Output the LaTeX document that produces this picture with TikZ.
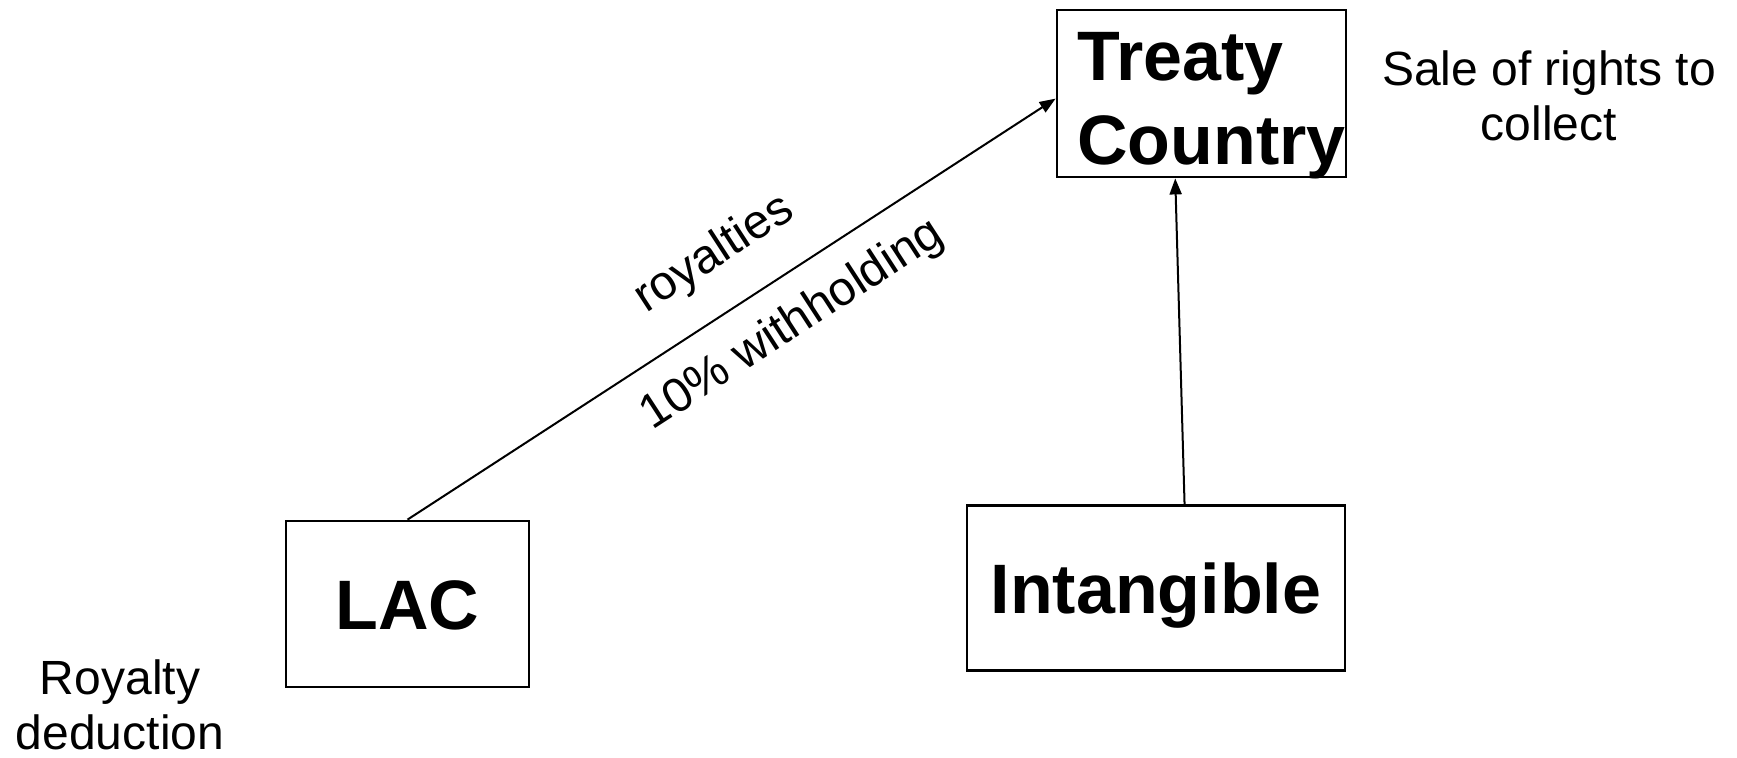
\documentclass[tikz,border=0pt]{standalone}
\usepackage{fontspec}
\setmainfont{Liberation Sans}
\usetikzlibrary{arrows.meta,calc}
\begin{document}
\begin{tikzpicture}[x=0.5pt,y=-0.5pt,
  box/.style={draw, line width=1.4pt, inner sep=0pt, font=\fontsize{35}{42}\selectfont\bfseries},
  caps/.style={text height=25pt, text depth=0pt},
  note/.style={font=\fontsize{24}{27.5}\selectfont, align=center, inner sep=0pt},
  flow/.style={line width=1pt, -{Triangle[length=8pt,width=6pt]}},
  lbl/.style={font=\fontsize{24}{27.5}\selectfont, inner sep=0pt, sloped, anchor=center}]
  \useasboundingbox (0,0) rectangle (1737,757);

  % boxes
  \node[box, minimum width=144.5pt, minimum height=83.5pt, align=left] (TC) at (1201.5,93.5)
    {\hspace*{10pt}\rule{0pt}{29pt}Treaty\\\hspace*{10pt}\raisebox{0pt}[\height][0pt]{Country}};
  \node[box, caps, minimum width=121.5pt, minimum height=83pt] (LAC) at (407.5,604) {LAC};
  \node[box, caps, minimum width=189pt, minimum height=82.5pt] (IN) at (1156,588) {Intangible};

  % side notes
  \node[note] (sale) at (1549,96) {Sale of rights to\\collect};
  \node[note] (ded) at (120,705) {Royalty\\deduction};

  % connectors
  \draw[flow] (LAC.north) -- ($(TC.north west)!0.53!(TC.south west)$)
    node[lbl, pos=0.52, yshift=27.5pt] (roy) {royalties}
    node[lbl, pos=0.555, yshift=-23.5pt] (wh) {10\% withholding};
  \draw[flow] ($(IN.north west)!0.575!(IN.north east)$) -- ($(TC.south west)!0.41!(TC.south east)$);
\end{tikzpicture}
\end{document}
